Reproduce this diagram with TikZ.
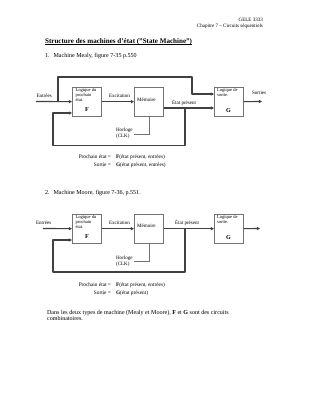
\documentclass[tikz,border=0pt]{standalone}
\usepackage{fontspec}
\setmainfont{Liberation Serif}
\usetikzlibrary{arrows.meta}
\begin{document}
\begin{tikzpicture}[x=1.98pt,y=-1.98pt,
  box/.style={draw=black!55, line width=0.7pt, inner sep=0pt, anchor=north west,
    minimum width=58pt, minimum height=57.4pt},
  wire/.style={draw=black!75, line width=2.3pt, line join=round,
    -{Triangle[length=6pt,width=6pt]}},
  thinwire/.style={draw=black!55, line width=0.7pt},
  lbl/.style={font=\fontsize{10}{11}\selectfont, inner sep=0pt, anchor=west, align=left},
  blbl/.style={font=\fontsize{9}{9.2}\selectfont, inner sep=0pt, anchor=north west, align=left},
  big/.style={font=\fontsize{12}{13}\selectfont\bfseries, inner sep=0pt},
  body/.style={font=\fontsize{12}{14}\selectfont, inner sep=0pt, anchor=base west},
  eq/.style={font=\fontsize{10.5}{12}\selectfont, inner sep=0pt, anchor=base west},
  eqr/.style={font=\fontsize{10.5}{12}\selectfont, inner sep=0pt, anchor=base east},
  hdr/.style={font=\fontsize{10}{12}\selectfont, inner sep=0pt, anchor=base east}
]
\useasboundingbox (0,0) rectangle (309,400);
\fill[white] (0,0) rectangle (309,400);

% header
\node[hdr] (h1) at (263,21) {GELE 3333};
\node[hdr] (h2) at (263,27.5) {Chapitre 7 -- Circuits séquentiels};
\node[body, font=\fontsize{14}{16}\selectfont\bfseries] (title) at (45,43) {Structure des machines d'état ("State Machine")};
\draw[line width=0.8pt] ([yshift=-2.2pt]title.base west) -- ([yshift=-2.2pt]title.base east);
\node[body] (s1n) at (45,57) {1.};
\node[body] (s1) at (53.5,57) {Machine Mealy, figure 7-35 p.550};

% ---------- Mealy ----------
\node[box] (F1) at (72,87) {};
\node[box] (M1) at (134,87) {};
\node[box] (G1) at (214,87) {};
\node[blbl] (F1t) at (75.5,88.5) {Logique du\\prochain\\état.};
\node[big] (F1l) at (87,110) {F};
\node[lbl] (M1t) at (137,99.5) {Mémoire};
\node[blbl] (G1t) at (217,88.5) {Logique de\\sortie.};
\node[big] (G1l) at (228.5,111) {G};
\node[lbl] (e1) at (36.5,96) {Entrées};
\node[lbl] (x1) at (109,95.5) {Excitation};
\node[lbl] (p1) at (172,103) {État présent};
\node[lbl] (o1) at (252,92.5) {Sorties};
\node[lbl] (hl1) at (116,133.5) {Horloge\\(CLK)};

\coordinate (in1) at (36,101.5);
\coordinate (out1) at (262,101.5);
\coordinate (j1) at (58,101.5);
\coordinate (tl1) at (58,77);
\coordinate (tr1) at (192,77);
\coordinate (k1) at (192,94);
\coordinate (b1) at (185,108);
\coordinate (br1) at (185,145.5);
\coordinate (bl1) at (53,145.5);
\coordinate (fb1) at (53,113);
\coordinate (hc1) at (149,134);

\draw[wire] (in1) -- (F1.west);
\draw[wire] (j1) -- (tl1) -- (tr1) -- (k1) -- (k1 -| G1.west);
\draw[wire] (F1.east) -- (M1.west);
\draw[wire] (M1.east |- b1) -- (G1.west |- b1);
\draw[wire] (b1) -- (br1) -- (bl1) -- (fb1) -- (fb1 -| F1.west);
\draw[wire] (G1.east) -- (out1);
\draw[thinwire] (hl1.east |- hc1) ++(2pt,0) -- (hc1) -- (hc1 |- M1.south);

\node[eqr] (q1a) at (111,158) {Prochain état =};
\node[eqr] (q1c) at (111,166) {Sortie =};
\node[eq] (q1b) at (116,158) {\textbf{F}(état présent, entrées)};
\node[eq] (q1d) at (116,166) {\textbf{G}(état présent, entrées)};

% ---------- Moore ----------
\node[body] (s2n) at (45,194) {2.};
\node[body] (s2) at (53.5,194) {Machine Moore, figure 7-36, p.551.};

\node[box] (F2) at (72,214) {};
\node[box] (M2) at (134,214) {};
\node[box] (G2) at (214,214) {};
\node[blbl] (F2t) at (75.5,215.5) {Logique du\\prochain\\état.};
\node[big] (F2l) at (87,237) {F};
\node[lbl] (M2t) at (137,226) {Mémoire};
\node[blbl] (G2t) at (217,215.5) {Logique de\\sortie.};
\node[big] (G2l) at (228.5,238) {G};
\node[lbl] (e2) at (36,223) {Entrées};
\node[lbl] (x2) at (109,223) {Excitation};
\node[lbl] (p2) at (175,223) {État présent};
\node[lbl] (hl2) at (116,261.5) {Horloge\\(CLK)};

\coordinate (in2) at (43,228.5);
\coordinate (out2) at (260,228.5);
\coordinate (b2) at (185,228.5);
\coordinate (br2) at (185,272);
\coordinate (bl2) at (53,272);
\coordinate (fb2) at (53,240);
\coordinate (hc2) at (149,261);

\draw[wire] (in2) -- (F2.west);
\draw[wire] (F2.east) -- (M2.west);
\draw[wire] (M2.east) -- (G2.west);
\draw[wire] (b2) -- (br2) -- (bl2) -- (fb2) -- (fb2 -| F2.west);
\draw[wire] (G2.east) -- (out2);
\draw[thinwire] (hl2.east |- hc2) ++(2pt,0) -- (hc2) -- (hc2 |- M2.south);

\node[eqr] (q2a) at (111,286) {Prochain état =};
\node[eqr] (q2c) at (111,294) {Sortie =};
\node[eq] (q2b) at (116,286) {\textbf{F}(état présent, entrées)};
\node[eq] (q2d) at (116,294) {\textbf{G}(état présent)};

\node[body] (c1) at (47,314) {Dans les deux types de machine (Mealy et Moore), \textbf{F} et \textbf{G} sont des circuits};
\node[body] (c2) at (47,320.5) {combinatoires.};
\end{tikzpicture}
\end{document}
